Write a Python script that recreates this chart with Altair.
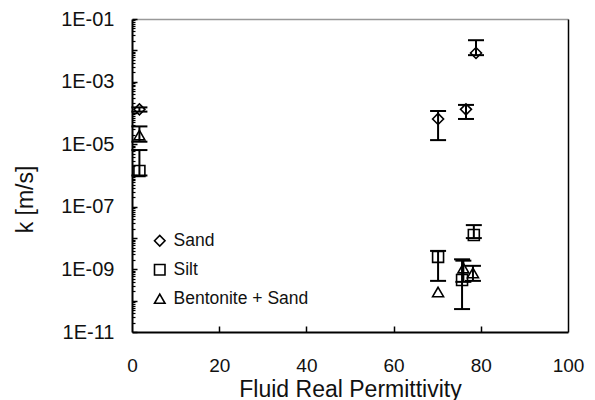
import altair as alt
import pandas as pd

# ---- data ----
series = ["Sand"] * 4 + ["Silt"] * 4 + ["Bentonite + Sand"] * 4
perm = [1.7, 70.2, 76.6, 78.9,
        1.7, 70.2, 75.7, 78.4,
        1.7, 70.2, 76.0, 78.2]
k = [1.3e-4, 6.4e-5, 1.3e-4, 8.2e-3,
     1.4e-6, 2.5e-9, 4.6e-10, 1.26e-8,
     1.95e-5, 1.9e-10, 1.1e-9, 7.7e-10]
k_lo = [1.1e-4, 1.35e-5, 6.4e-5, 7.0e-3,
        1.0e-6, 4.3e-10, 5.4e-11, 1.0e-8,
        1.2e-5, None, 4.0e-10, 4.3e-10]
k_hi = [1.5e-4, 1.15e-4, 1.8e-4, 2.1e-2,
        6.5e-6, 3.9e-9, 2.1e-9, 2.6e-8,
        3.7e-5, None, 1.9e-9, 1.3e-9]

series_order = ["Sand", "Silt", "Bentonite + Sand"]
shapes = ["diamond", "square", "triangle-up"]

x_ticks = [0, 20, 40, 60, 80, 100]
x_inner_ticks = [20, 40, 60, 80]
y_label_ticks = [1e-11, 1e-9, 1e-7, 1e-5, 1e-3, 1e-1]
y_major_ticks = [10.0 ** e for e in range(-11, 0)]
y_minor_ticks = [m * 10.0 ** e for e in range(-11, -1) for m in range(2, 10)]

FONT = "Liberation Sans"

df = pd.DataFrame({"series": series, "perm": perm, "k": k, "lo": k_lo, "hi": k_hi})
err = df.dropna(subset=["lo", "hi"])

xscale = alt.Scale(domain=[0, 100], nice=False, zero=False)
yscale = alt.Scale(type="log", domain=[1e-11, 1e-1], nice=False)

label_expr = ("'1E-' + (round(-log(datum.value)/LN10) < 10 ? '0' : '') + "
              "round(-log(datum.value)/LN10)")


def frame_axis(orient, color, width):
    return alt.Axis(orient=orient, labels=False, ticks=False, grid=False, domain=True,
                    domainColor=color, domainWidth=width, domainOpacity=1, title=None)


points = alt.Chart(df).mark_point(filled=False, color="black", strokeWidth=1.6, size=120, opacity=1).encode(
    x=alt.X("perm:Q", scale=xscale,
            axis=alt.Axis(orient="bottom", values=x_ticks, ticks=False, grid=False,
                          domain=True, domainColor="#000000", domainWidth=2, domainOpacity=1,
                          labelFontSize=19, labelPadding=24, labelFont=FONT, labelColor="#111",
                          labelFlush=False,
                          title="Fluid Real Permittivity", titleFont=FONT, titleFontSize=23,
                          titleFontWeight="normal", titleColor="#111",
                          titleBaseline="alphabetic", titleY=64)),
    y=alt.Y("k:Q", scale=yscale,
            axis=alt.Axis(orient="left", values=y_label_ticks, ticks=False, grid=False,
                          domain=True, domainColor="#000000", domainWidth=2, domainOpacity=1,
                          labelExpr=label_expr, labelFontSize=20, labelPadding=18,
                          labelFont=FONT, labelColor="#111", labelFlush=False,
                          title="k [m/s]", titleFont=FONT, titleFontSize=23,
                          titleFontWeight="normal", titleColor="#111",
                          titleAngle=-90, titleBaseline="middle", titleAlign="center",
                          titleX=-107, titleY=180)),
    shape=alt.Shape("series:N", scale=alt.Scale(domain=series_order, range=shapes),
                    legend=alt.Legend(title=None, orient="none", legendX=19, legendY=213,
                                      labelFont=FONT, labelFontSize=17.5, labelColor="#111",
                                      symbolSize=110, symbolStrokeColor="black",
                                      symbolStrokeWidth=1.6, symbolFillColor="transparent",
                                      rowPadding=10, labelOffset=5, padding=0)),
)

rules = alt.Chart(err).mark_rule(color="black", strokeWidth=2).encode(
    x=alt.X("perm:Q", scale=xscale,
            axis=alt.Axis(orient="bottom", values=x_inner_ticks, labels=False, domain=False,
                          grid=False, ticks=True, tickSize=6, tickWidth=1.5, tickColor="black",
                          offset=-6, title=None)),
    y=alt.Y("lo:Q", scale=yscale,
            axis=alt.Axis(orient="left", values=y_major_ticks, labels=False, domain=False,
                          grid=False, ticks=True, tickSize=5, tickWidth=1.5, tickColor="black",
                          offset=-5, title=None)),
    y2="hi:Q",
)

caps_lo = alt.Chart(err).mark_tick(orient="horizontal", color="black", size=16, thickness=2,
                                   opacity=1).encode(
    x=alt.X("perm:Q", scale=xscale, axis=frame_axis("top", "#999999", 1.5)),
    y=alt.Y("lo:Q", scale=yscale,
            axis=alt.Axis(orient="left", values=y_minor_ticks, labels=False, domain=False,
                          grid=False, ticks=True, tickSize=3, tickWidth=1.2, tickColor="black",
                          offset=-3, title=None)),
)

caps_hi = alt.Chart(err).mark_tick(orient="horizontal", color="black", size=16, thickness=2,
                                   opacity=1).encode(
    x=alt.X("perm:Q", scale=xscale, axis=None),
    y=alt.Y("hi:Q", scale=yscale, axis=frame_axis("right", "#000000", 1.5)),
)

chart = alt.layer(rules, caps_lo, caps_hi, points).resolve_scale(
    x="shared", y="shared"
).resolve_axis(
    x="independent", y="independent"
).properties(
    width=436, height=313,
    autosize=alt.AutoSizeParams(type="none"),
    padding={"left": 124, "top": 11, "right": 19, "bottom": 68},
    background="white",
).configure_view(
    strokeOpacity=0
)

chart.save("out.html", embed_options={"renderer": "svg", "actions": False})
